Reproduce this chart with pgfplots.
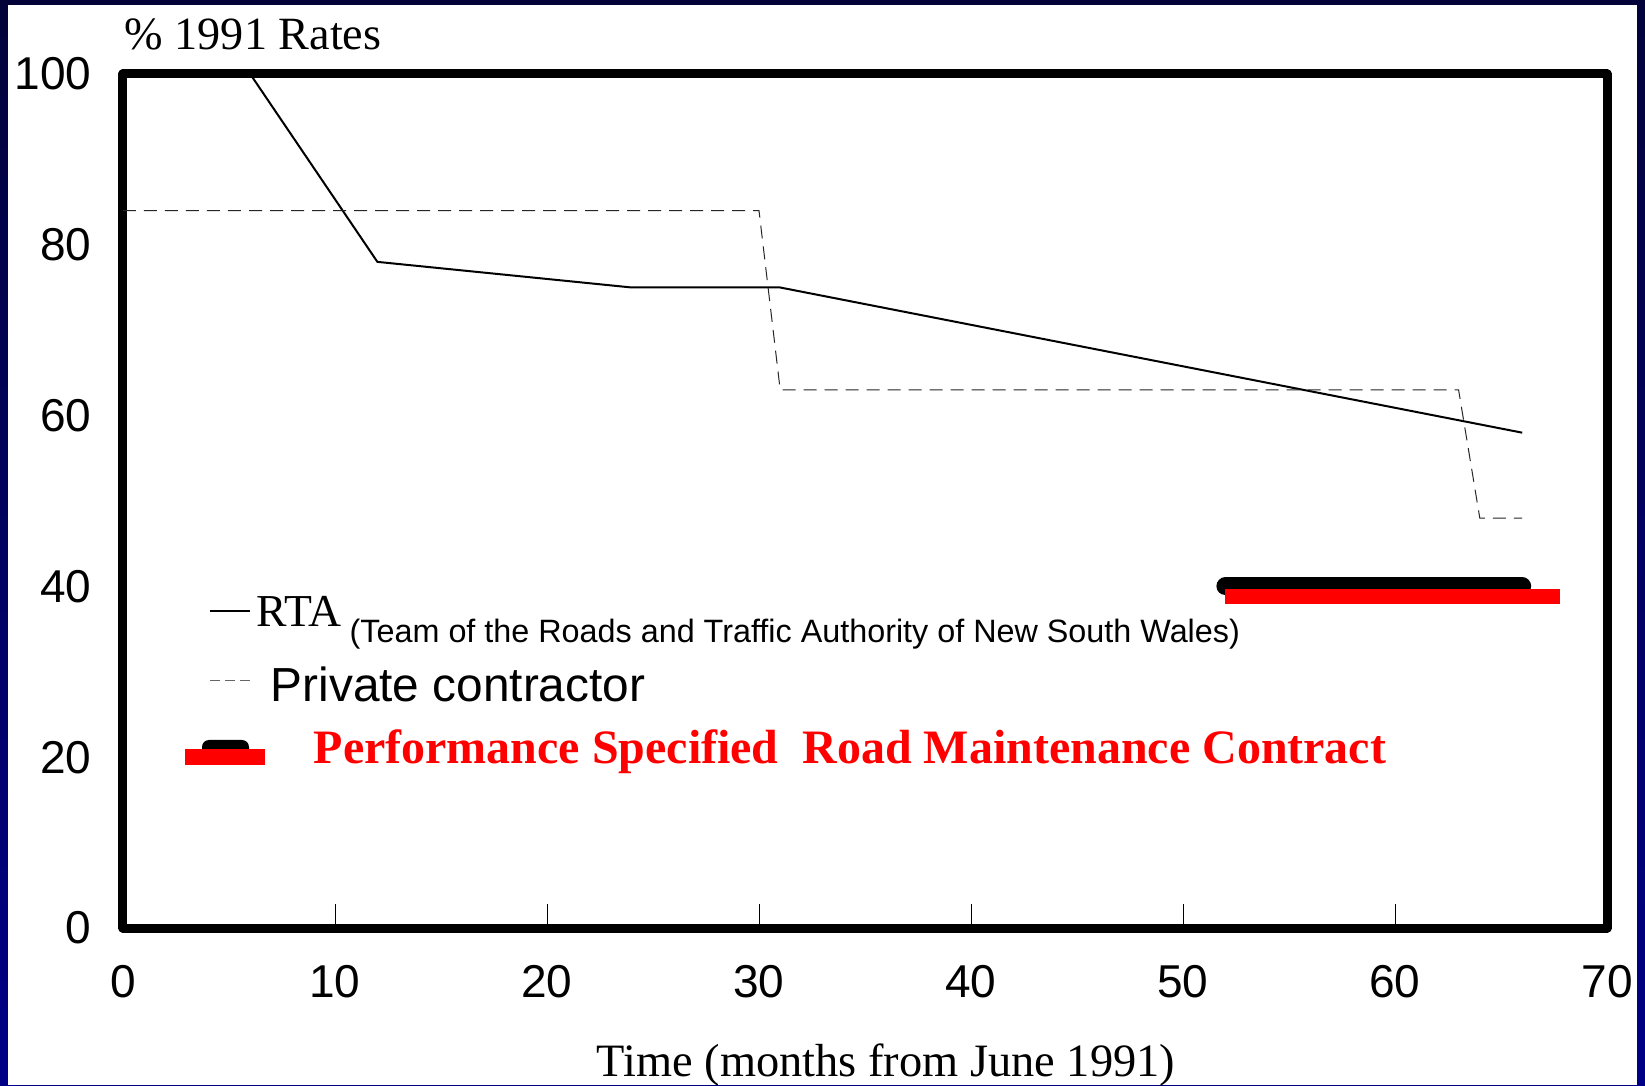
\documentclass[border=0pt]{standalone}
\usepackage{pgfplots}
\pgfplotsset{compat=1.18}
\usepackage{fontspec}
\setmainfont{Liberation Serif}
\newfontfamily\arial{Liberation Sans}
\definecolor{navytop}{RGB}{3,3,58}
\definecolor{navybot}{RGB}{0,0,135}
\begin{document}
\begin{tikzpicture}
\useasboundingbox (-12.3mm,-15.7mm) rectangle (152.2mm,92.8mm);
\shade[top color=navytop, bottom color=navybot] (-12.3mm,-15.7mm) rectangle (152.2mm,92.8mm);
\fill[white] (-11.5mm,-15.7mm) rectangle (151.4mm,92.3mm);
\begin{axis}[
  at={(0,0)}, anchor=south west, scale only axis,
  width=148.4mm, height=85.4mm,
  xmin=0, xmax=70, ymin=0, ymax=100,
  xtick={0,10,...,70}, ytick={0,20,...,100},
  tick align=inside, xtick pos=bottom, ytick pos=left,
  major tick length=2.4mm,
  xtick style={line width=0.1mm, black},
  ytick style={draw=none},
  axis line style={line width=0.9mm, line join=round},
  /pgf/number format/assume math mode=true,
  ticklabel style={font=\arial\fontsize{13.1}{15}\selectfont, inner sep=0pt},
  xticklabel style={anchor=north, yshift=-3.7mm},
  yticklabel style={anchor=east, xshift=-3.1mm},
]
\addplot[black, line width=0.2mm] coordinates {(6,100)(12,78)(24,75)(31,75)(66,58)};
\addplot[black!85, line width=0.1mm, dash pattern=on 1.3mm off 0.8mm] coordinates {(0,84)(30,84)(31,63)(63,63)(64,48)(66,48)};
\addplot[black, line width=1.8mm, line cap=round] coordinates {(52,40)(66,40)};
\addplot[red, line width=1.5mm] coordinates {(52,38.8)(67.8,38.8)};
\end{axis}
\node[anchor=base west, inner sep=0, font=\fontsize{13.15}{15}\selectfont] at (0.1mm,87.8mm) {\% 1991 Rates};
\node[anchor=base, inner sep=0, font=\fontsize{13.2}{15}\selectfont] at (76.3mm,-14.8mm) {Time (months from June 1991)};
% legend
\draw[black, line width=0.25mm] (8.7mm,31.7mm) -- (12.7mm,31.7mm);
\node[anchor=base west, inner sep=0, font=\fontsize{13}{15}\selectfont] at (13.3mm,30.1mm) {RTA};
\node[anchor=base west, inner sep=0, font=\arial\fontsize{9.2}{11}\selectfont] at (22.6mm,28.5mm) {(Team of the Roads and Traffic Authority of New South Wales)};
\draw[black!60, line width=0.1mm, dash pattern=on 1mm off 0.5mm] (8.7mm,24.7mm) -- (12.7mm,24.7mm);
\node[anchor=base west, inner sep=0, font=\arial\fontsize{13.6}{15}\selectfont] at (14.7mm,22.7mm) {Private contractor};
\fill[black, rounded corners=0.7mm] (7.9mm,17.0mm) rectangle (12.6mm,18.8mm);
\fill[red] (6.2mm,16.3mm) rectangle (14.2mm,17.9mm);
\node[anchor=base west, inner sep=0, text=red, font=\bfseries\fontsize{13.65}{16}\selectfont] at (19.0mm,16.4mm) {Performance Specified~ Road Maintenance Contract};
\end{tikzpicture}
\end{document}
